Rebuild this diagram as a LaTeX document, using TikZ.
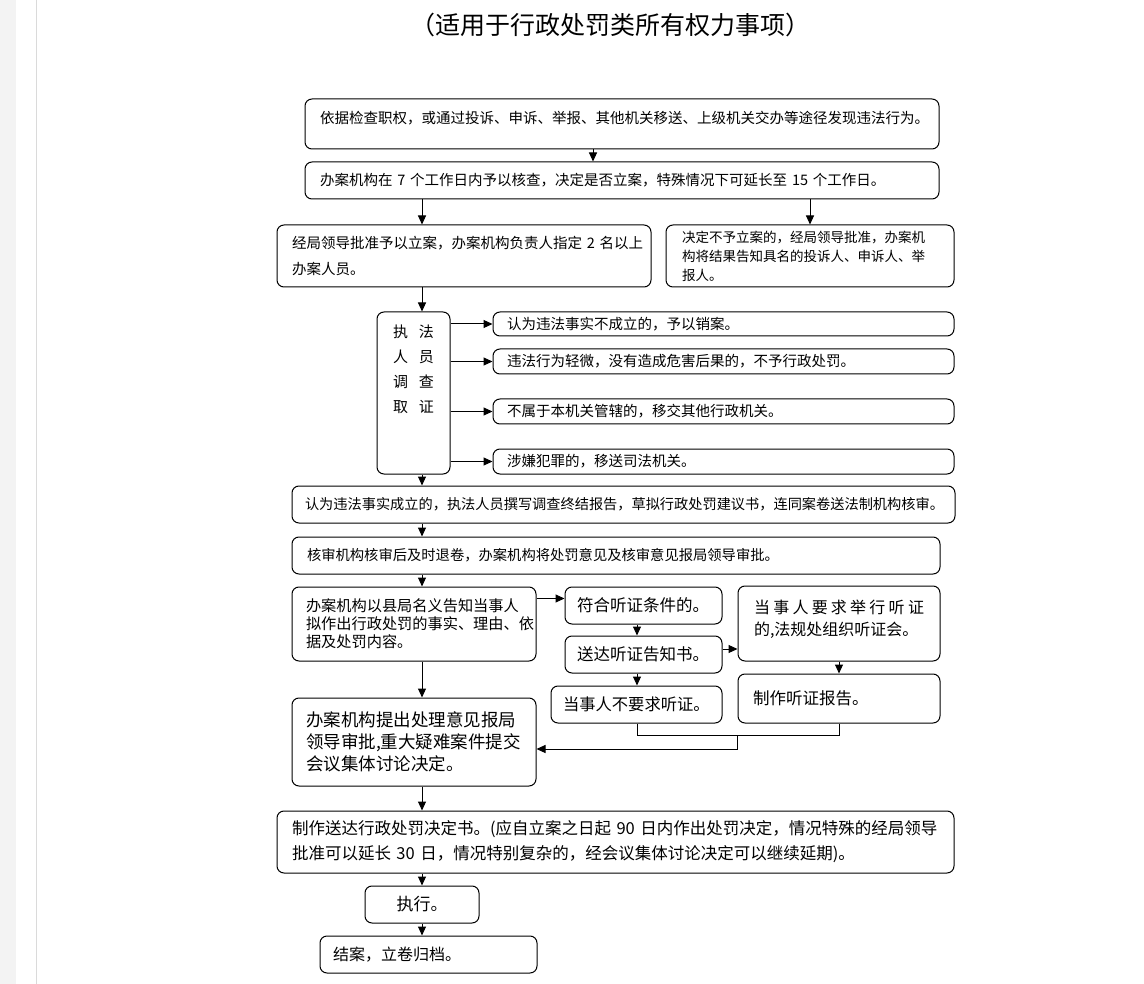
\documentclass[tikz,border=0pt]{standalone}
\usepackage{fontspec}
\setmainfont{Noto Sans CJK SC}
\usetikzlibrary{positioning,arrows.meta}
\definecolor{PageGray}{HTML}{F3F3F3}
\definecolor{RuleGray}{HTML}{DADADA}
\newcommand{\bxfont}[2]{\fontsize{#1}{#2}\selectfont}

\begin{document}
\begin{tikzpicture}[
  x=1pt, y=-1pt,
  box/.style  = {draw, rounded corners=7pt, line width=1pt, inner xsep=15pt,
                 inner ysep=0pt, align=left},
  arr/.style  = {-{Triangle[length=9pt,width=8pt]}, line width=1pt},
  link/.style = {line width=1pt}
]
  \useasboundingbox (0,0) rectangle (1144,984);
  \fill[PageGray] (0,0) rectangle (16,984);
  \draw[RuleGray, line width=1pt] (36,0) -- (36,984);

  \node[font=\bxfont{25pt}{28pt}] (title) at (610,25) {（适用于行政处罚类所有权力事项）};

  \node[box, text width=604pt, text depth=14pt, minimum height=50pt, font=\bxfont{14.5pt}{20pt}] (found) at (622,124)
    {依据检查职权，或通过投诉、申诉、举报、其他机关移送、上级机关交办等途径发现违法行为。};
  \node[box, text width=604pt, minimum height=37pt, font=\bxfont{14.5pt}{20pt}] (verify) at (622,180.5)
    {办案机构在~7~个工作日内予以核查，决定是否立案，特殊情况下可延长至~15~个工作日。};
  \node[box, text width=344pt, minimum height=62pt, font=\bxfont{14.5pt}{26pt}] (accept) at (464,256)
    {经局领导批准予以立案，办案机构负责人指定~2~名以上\\办案人员。};
  \node[box, inner xsep=16pt, text width=256pt, minimum height=62pt, font=\bxfont{13.5pt}{19pt}] (reject) at (810,256)
    {决定不予立案的，经局领导批准，办案机\\构将结果告知具名的投诉人、申诉人、举\\报人。};

  \node[box, minimum width=73pt, minimum height=162pt] (survey) at (413.5,393) {};
  \node[below=13pt of survey.north, inner sep=0pt, align=center, font=\bxfont{15pt}{25pt}] (surveytxt)
    {执\hspace{11pt}法\\人\hspace{11pt}员\\调\hspace{11pt}查\\取\hspace{11pt}证};

  \node[box, inner xsep=14pt, text width=433pt, minimum height=24pt, font=\bxfont{14.5pt}{20pt}] (drop) at (723.5,324)
    {认为违法事实不成立的，予以销案。};
  \node[box, inner xsep=14pt, text width=433pt, minimum height=25pt, font=\bxfont{14.5pt}{20pt}] (minor) at (723.5,361.5)
    {违法行为轻微，没有造成危害后果的，不予行政处罚。};
  \node[box, inner xsep=14pt, text width=433pt, minimum height=25pt, font=\bxfont{14.5pt}{20pt}] (transfer) at (723.5,411.5)
    {不属于本机关管辖的，移交其他行政机关。};
  \node[box, inner xsep=14pt, text width=433pt, minimum height=25pt, font=\bxfont{14.5pt}{20pt}] (crime) at (723.5,461.5)
    {涉嫌犯罪的，移送司法机关。};

  \node[box, inner xsep=13pt, text width=637pt, minimum height=37pt, font=\bxfont{14.2pt}{20pt}] (conclude) at (623.5,504.5)
    {认为违法事实成立的，执法人员撰写调查终结报告，草拟行政处罚建议书，连同案卷送法制机构核审。};
  \node[box, text width=618pt, minimum height=37pt, font=\bxfont{14.3pt}{20pt}] (audit) at (616,555.5)
    {核审机构核审后及时退卷，办案机构将处罚意见及核审意见报局领导审批。};
  \node[box, inner xsep=14pt, text width=216pt, minimum height=74pt, font=\bxfont{15.2pt}{18pt}] (inform) at (414,624)
    {办案机构以县局名义告知当事人\\拟作出行政处罚的事实、理由、依\\据及处罚内容。};

  \node[box, inner xsep=12pt, text width=133pt, minimum height=37pt, font=\bxfont{16.5pt}{20pt}] (hcond) at (643.5,605.5)
    {符合听证条件的。};
  \node[box, inner xsep=12pt, text width=133pt, minimum height=37pt, font=\bxfont{16.5pt}{20pt}] (hserve) at (643.5,654.5)
    {送达听证告知书。};
  \node[box, inner xsep=12pt, text width=147pt, minimum height=37pt, font=\bxfont{16.3pt}{20pt}] (hwaive) at (636.5,704.5)
    {当事人不要求听证。};
  \node[box, inner xsep=16pt, text width=170pt, text depth=33pt, minimum height=75pt, font=\bxfont{16pt}{22pt}] (hask) at (839,623.5)
    {当\hfill 事\hfill 人\hfill 要\hfill 求\hfill 举\hfill 行\hfill 听\hfill 证\\的,法规处组织听证会。};
  \node[box, text width=172pt, minimum height=49pt, font=\bxfont{16.5pt}{20pt}] (hreport) at (839,698.5)
    {制作听证报告。};

  \node[box, inner xsep=14pt, text width=216pt, minimum height=88pt, font=\bxfont{17.5pt}{22pt}] (propose) at (414,742)
    {办案机构提出处理意见报局\\领导审批,重大疑难案件提交\\会议集体讨论决定。};
  \node[box, text width=647pt, minimum height=62pt, font=\bxfont{16.5pt}{25pt}] (decide) at (615.5,842)
    {制作送达行政处罚决定书。(应自立案之日起~90~日内作出处罚决定，情况特殊的经局领导\\批准可以延长~30~日，情况特别复杂的，经会议集体讨论决定可以继续延期)。};
  \node[box, align=center, inner xsep=0pt, minimum width=114pt, minimum height=37pt, font=\bxfont{17pt}{20pt}] (execute) at (422,904.5)
    {执行。};
  \node[box, inner xsep=13pt, text width=191pt, minimum height=37pt, font=\bxfont{16pt}{20pt}] (archive) at (428.5,954.5)
    {结案，立卷归档。};

  \coordinate (entry) at (593,0);
  \coordinate (spine) at (422,0);
  \coordinate (hx) at (637,0);

  \draw[arr] (found.south -| entry) -- (verify.north -| entry);
  \draw[arr] (verify.south -| spine) -- (accept.north -| spine);
  \draw[arr] (verify.south -| reject.north) -- (reject.north);
  \draw[arr] (accept.south -| spine) -- (survey.north -| spine);
  \foreach \r in {drop,minor,transfer,crime}
    \draw[arr] (survey.east |- \r.west) -- (\r.west);
  \draw[arr] (survey.south -| spine) -- (conclude.north -| spine);
  \draw[arr] (conclude.south -| spine) -- (audit.north -| spine);
  \draw[arr] (audit.south -| spine) -- (inform.north -| spine);

  \coordinate (hin) at ([yshift=7pt]hcond.west);
  \draw[arr] (inform.east |- hin) -- (hin);
  \draw[arr] (hcond.south -| hx) -- (hserve.north -| hx);
  \draw[arr] (hserve.south -| hx) -- (hwaive.north -| hx);
  \coordinate (sout) at ([yshift=5.5pt]hserve.east);
  \draw[arr] (sout) -- (hask.west |- sout);
  \draw[arr] (hask) -- (hreport);

  \coordinate (hjoin) at ([yshift=-12pt]hwaive.south -| hask.west);
  \draw[link] (hwaive.south -| hx) |- (hreport.south |- hjoin) -- (hreport.south);
  \draw[arr] (hjoin) |- ([yshift=-7pt]propose.east);

  \draw[arr] (inform.south -| spine) -- (propose.north -| spine);
  \draw[arr] (propose.south -| spine) -- (decide.north -| spine);
  \draw[arr] (decide.south -| spine) -- (execute.north -| spine);
  \draw[arr] (execute.south -| spine) -- (archive.north -| spine);
\end{tikzpicture}
\end{document}
